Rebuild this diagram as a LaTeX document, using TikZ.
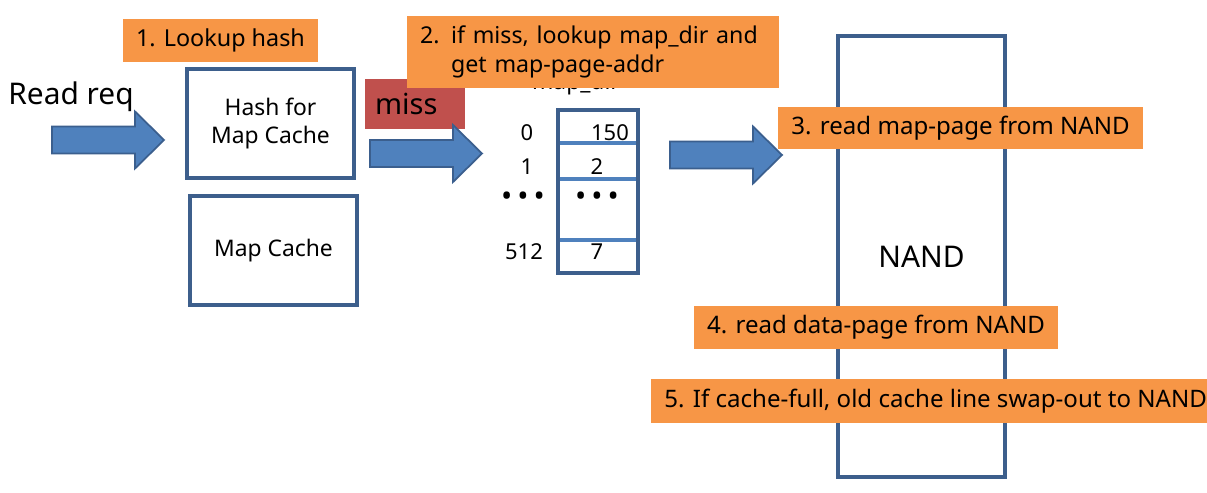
\documentclass[tikz,border=0pt]{standalone}
\usepackage{fontspec}
\setmainfont{Noto Sans}
\usetikzlibrary{positioning}
\usepackage{xcolor}

\definecolor{notecolor}{HTML}{F79646}
\definecolor{misscolor}{HTML}{C0504D}
\definecolor{arrowfill}{HTML}{4F81BD}
\definecolor{arrowborder}{HTML}{3B5F8E}
\definecolor{boxborder}{HTML}{3D5F8C}

\begin{document}
\begin{tikzpicture}[x=0.02cm,y=-0.02cm,
	stepnote/.style={fill=notecolor, inner sep=0pt, font=\fontsize{13.7pt}{15.5pt}\selectfont},
	block/.style={draw=boxborder, line width=2.2pt, inner sep=0pt, align=center, font=\fontsize{13pt}{15.5pt}\selectfont},
	cell/.style={inner sep=0pt, font=\fontsize{12.5pt}{14pt}\selectfont},
	dots/.style={inner sep=0pt, font=\fontsize{17pt}{18pt}\selectfont\bfseries},
	bigtext/.style={inner sep=0pt, font=\fontsize{17pt}{20pt}\selectfont}]
				% Sizes
				\def\unitpx{0.02cm}

				\clip (0,0) rectangle (1207,493);
				\fill[white] (0,0) rectangle (1207,493);

				% left part
				\node[bigtext] (readreq) at (71,97) {Read req};
				\node[block, minimum width=167*\unitpx, minimum height=109*\unitpx] (hash) at (270.5,123.5) {Hash for\\Map Cache};
				\node[block, minimum width=167*\unitpx, minimum height=109*\unitpx] (cache) at (273.5,250.5) {Map Cache};
				\node[stepnote, minimum width=195*\unitpx, minimum height=43*\unitpx, font=\fontsize{13.3pt}{15.5pt}\selectfont] (lookup) at (220.5,40.5) {1. Lookup hash};
				\node[fill=misscolor, inner sep=0pt, minimum width=100*\unitpx, minimum height=50*\unitpx, font=\fontsize{16.5pt}{19pt}\selectfont] (miss) at (415,104) {\hspace*{-10pt}miss};

				% map_dir table
				\node[cell, anchor=base, font=\fontsize{13pt}{15.5pt}\selectfont] (dirlabel) at (576,90) {map\_dir};
				\node[inner sep=0pt, minimum width=80*\unitpx, minimum height=163*\unitpx] (dir) at (598,191.5) {};
				\foreach \y in {143,179,240}
				{
				  \draw[arrowfill, line width=2pt] (558,\y) -- (638,\y);
				}
				\draw[boxborder, line width=2.4pt] (dir.north west) rectangle (dir.south east);
				\node[cell] (val0) at (610,133) {150};
				\node[cell] (val1) at (597,167) {2};
				\node[dots] (val2) at (597,199) {•\,•\,•};
				\node[cell] (val3) at (597,252) {7};
				\node[cell] (idx0) at (527,133) {0};
				\node[cell] (idx1) at (527,167) {1};
				\node[dots] (idx2) at (523,199) {•\,•\,•};
				\node[cell] (idx3) at (524,252) {512};

				% block arrows
				\foreach \x/\y in {52/140, 370/153.5, 670/155}
				{
				  \filldraw[fill=arrowfill, draw=arrowborder, line width=1pt]
				    (\x,\y-13.5) -- (\x+83,\y-13.5) -- (\x+83,\y-28.5) -- (\x+112,\y)
				    -- (\x+83,\y+28.5) -- (\x+83,\y+13.5) -- (\x,\y+13.5) -- cycle;
				}

				\node[stepnote, minimum height=72*\unitpx, inner xsep=13*\unitpx, text width=346*\unitpx, align=left,
				  font=\fontsize{13.2pt}{16.5pt}\selectfont] (step2) at (593,52)
				  {2. if miss, lookup map\_dir and\\\phantom{2. }get map-page-addr};

				% NAND
				\node[block, minimum width=167*\unitpx, minimum height=441*\unitpx, font=\fontsize{17pt}{20pt}\selectfont] (nand) at (921.5,256.5) {NAND};
				\node[stepnote, minimum width=365*\unitpx, minimum height=42*\unitpx] (step3) at (960.5,128) {3. read map-page from NAND};
				\node[stepnote, minimum width=364*\unitpx, minimum height=43*\unitpx] (step4) at (876,327.5) {4. read data-page from NAND};
				\node[stepnote, anchor=west, minimum height=44*\unitpx, inner xsep=13*\unitpx] (step5) at (651,401) {5. If cache-full, old cache line swap-out to NAND\hspace*{20pt}};
\end{tikzpicture}
\end{document}
